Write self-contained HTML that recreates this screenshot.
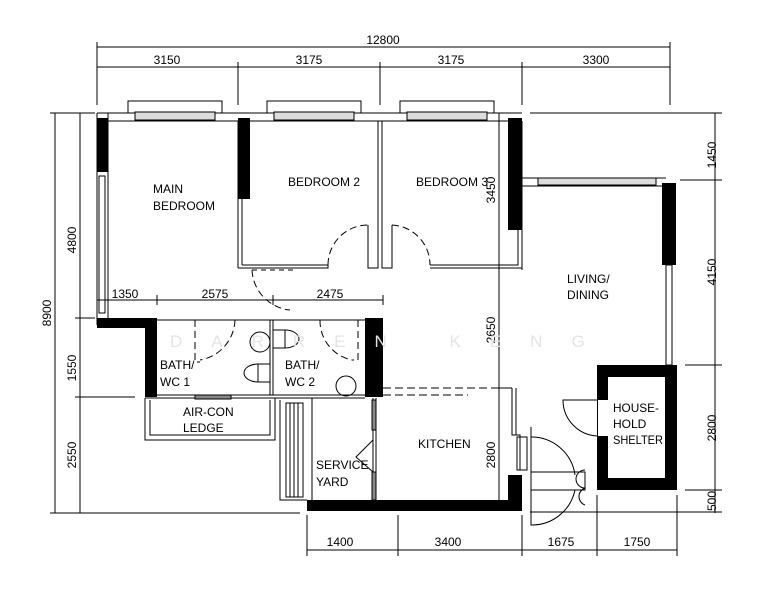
<!DOCTYPE html>
<html><head><meta charset="utf-8"><style>
html,body{margin:0;padding:0;background:#fff;}
svg{display:block;}
text{font-family:"Liberation Sans",sans-serif;font-size:12px;fill:#000;}
</style></head><body>
<svg width="775" height="600" viewBox="0 0 775 600" xmlns="http://www.w3.org/2000/svg">
<g stroke="#000" stroke-width="1" fill="none">
<line x1="97" y1="47" x2="670" y2="47"/>
<line x1="97" y1="67" x2="670" y2="67"/>
<line x1="97" y1="42" x2="97" y2="105"/>
<line x1="238" y1="62" x2="238" y2="105"/>
<line x1="380" y1="62" x2="380" y2="105"/>
<line x1="522" y1="62" x2="522" y2="105"/>
<line x1="670" y1="42" x2="670" y2="105"/>
<line x1="55" y1="113" x2="55" y2="513"/>
<line x1="80" y1="113" x2="80" y2="513"/>
<line x1="50" y1="113" x2="95" y2="113"/>
<line x1="75" y1="318" x2="95" y2="318"/>
<line x1="75" y1="397" x2="135" y2="397"/>
<line x1="50" y1="513" x2="300" y2="513"/>
<line x1="715" y1="113" x2="715" y2="513"/>
<line x1="530" y1="113" x2="722" y2="113"/>
<line x1="680" y1="180" x2="722" y2="180"/>
<line x1="685" y1="365" x2="722" y2="365"/>
<line x1="685" y1="490" x2="722" y2="490"/>
<line x1="530" y1="512" x2="722" y2="512"/>
<line x1="307" y1="550" x2="677" y2="550"/>
<line x1="307" y1="515" x2="307" y2="556"/>
<line x1="398" y1="515" x2="398" y2="556"/>
<line x1="522" y1="515" x2="522" y2="556"/>
<line x1="597" y1="495" x2="597" y2="556"/>
<line x1="677" y1="495" x2="677" y2="556"/>
<line x1="97" y1="300" x2="383" y2="300"/>
<line x1="157" y1="295" x2="157" y2="305"/>
<line x1="273" y1="295" x2="273" y2="305"/>
<line x1="383" y1="295" x2="383" y2="305"/>
<line x1="499" y1="113" x2="499" y2="505"/>
<line x1="97" y1="113" x2="522" y2="113"/>
<line x1="97" y1="121" x2="522" y2="121"/>
<rect x="128" y="101" width="94" height="12"/><rect x="267" y="101" width="94" height="12"/><rect x="400" y="101" width="94" height="12"/>
<rect x="135" y="112" width="80" height="8" fill="#ddd"/><rect x="274" y="112" width="80" height="8" fill="#ddd"/><rect x="407" y="112" width="80" height="8" fill="#ddd"/>
<line x1="97" y1="113" x2="97" y2="325"/><line x1="108" y1="113" x2="108" y2="318"/>
<rect x="99" y="176" width="6" height="137"/>
<line x1="238" y1="121" x2="238" y2="268"/><line x1="242" y1="199" x2="242" y2="265"/>
<polyline points="242,265 328,265 328,268 238,268"/>
<polyline points="368,225 368,268 378,268 378,121"/><polyline points="382,121 382,268 392,268 392,225"/>
<polyline points="430,265 518,265 518,121"/><line x1="430" y1="268" x2="522" y2="268"/><line x1="522" y1="121" x2="522" y2="270"/>
<path d="M328,265 A40,40 0 0 1 368,225" stroke-dasharray="7,4"/>
<path d="M392,225 A40,40 0 0 1 430,265" stroke-dasharray="7,4"/>
<line x1="368" y1="225" x2="368" y2="268" stroke-dasharray="7,4"/>
<line x1="392" y1="225" x2="392" y2="268" stroke-dasharray="7,4"/>
<path d="M252,270 A42,42 0 0 0 290,310" stroke-dasharray="7,4"/>
<line x1="252" y1="270" x2="295" y2="270" stroke-dasharray="5,4"/>
<line x1="522" y1="178" x2="666" y2="178"/><line x1="522" y1="186" x2="662" y2="186"/>
<rect x="538" y="178" width="118" height="7" fill="#ddd"/>
<rect x="666" y="265" width="6" height="100"/>
<line x1="157" y1="320" x2="365" y2="320"/><line x1="157" y1="395" x2="365" y2="395"/><line x1="145" y1="398" x2="365" y2="398"/>
<line x1="270" y1="320" x2="270" y2="395"/><line x1="273" y1="320" x2="273" y2="395"/>
<path d="M195,320 L195,362 L200,362 M235,320 A42,42 0 0 1 200,360" stroke-dasharray="7,4"/>
<path d="M358,320 L358,360 L352,360 M320,320 A40,40 0 0 0 352,360" stroke-dasharray="7,4"/>
<circle cx="260" cy="342" r="10"/><circle cx="346" cy="386" r="10"/>
<rect x="258" y="364" width="12" height="18"/><path d="M258,364 A14,9 0 0 0 258,382"/>
<rect x="273" y="330" width="12" height="18"/><path d="M285,330 A14,9 0 0 1 285,348"/>
<polyline points="145,398 145,440 275,440 275,398"/><polyline points="150,400 150,435 270,435 270,400"/>
<rect x="195" y="395" width="36" height="4" fill="#888"/>
<polyline points="280,400 280,500 307,500"/><rect x="286" y="403" width="17" height="94"/>
<line x1="290" y1="403" x2="290" y2="497"/><line x1="294" y1="403" x2="294" y2="497"/><line x1="298" y1="403" x2="298" y2="497"/>
<line x1="312" y1="398" x2="312" y2="500"/>
<line x1="373" y1="398" x2="373" y2="500"/><line x1="376" y1="398" x2="376" y2="500"/>
<rect x="372" y="400" width="4" height="30" fill="#888"/><rect x="372" y="472" width="4" height="28" fill="#888"/>
<polyline points="373,440 356,457 373,472"/>
<line x1="383" y1="388" x2="499" y2="388" stroke-dasharray="8,4"/><line x1="383" y1="395" x2="468" y2="395" stroke-dasharray="8,4"/>
<line x1="499" y1="388" x2="512" y2="388"/><polyline points="512,388 512,435 520,435 520,470"/><polyline points="516,388 516,435"/>
<rect x="517" y="437" width="10" height="33"/>
<path d="M531,427 L531,475"/>
<path d="M531,437 A44,44 0 0 1 575,475"/>
<rect x="531" y="472" width="54" height="18"/>
<path d="M531,490 L531,525 A44,44 0 0 0 575,490"/>
<path d="M585,470 A9,9 0 0 0 585,488 A9,9 0 0 0 585,505"/>
<path d="M597,400 L563,400 A36,36 0 0 0 597,436"/>
<line x1="597" y1="400" x2="608" y2="400"/>
</g>
<g fill="#000">
<rect x="97" y="118" width="11" height="54"/>
<rect x="238" y="118" width="12" height="81"/>
<rect x="508" y="118" width="14" height="112"/>
<rect x="662" y="183" width="14" height="82"/>
<polygon points="97,318 157,318 157,397 145,397 145,328 97,328"/>
<rect x="365" y="318" width="18" height="79"/>
<rect x="307" y="500" width="215" height="11"/>
<rect x="508" y="475" width="14" height="36"/>
<path d="M597,365 H677 V490 H597 Z M608,377 V478 H665 V377 Z" fill-rule="evenodd"/>
</g>
<rect x="598" y="400" width="10" height="36" fill="#fff"/>
<g>
<text x="383" y="44" text-anchor="middle">12800</text>
<text x="167" y="64" text-anchor="middle">3150</text>
<text x="309" y="64" text-anchor="middle">3175</text>
<text x="451" y="64" text-anchor="middle">3175</text>
<text x="596" y="64" text-anchor="middle">3300</text>
<text x="125" y="298" text-anchor="middle">1350</text>
<text x="215" y="298" text-anchor="middle">2575</text>
<text x="330" y="298" text-anchor="middle">2475</text>
<text x="340" y="546" text-anchor="middle">1400</text>
<text x="448" y="546" text-anchor="middle">3400</text>
<text x="561" y="546" text-anchor="middle">1675</text>
<text x="637" y="546" text-anchor="middle">1750</text>
<text transform="translate(51,313) rotate(-90)" text-anchor="middle">8900</text>
<text transform="translate(76,240) rotate(-90)" text-anchor="middle">4800</text>
<text transform="translate(76,368) rotate(-90)" text-anchor="middle">1550</text>
<text transform="translate(76,455) rotate(-90)" text-anchor="middle">2550</text>
<text transform="translate(495,190) rotate(-90)" text-anchor="middle">3450</text>
<text transform="translate(495,330) rotate(-90)" text-anchor="middle">2650</text>
<text transform="translate(495,455) rotate(-90)" text-anchor="middle">2800</text>
<text transform="translate(716,155) rotate(-90)" text-anchor="middle">1450</text>
<text transform="translate(716,272) rotate(-90)" text-anchor="middle">4150</text>
<text transform="translate(716,428) rotate(-90)" text-anchor="middle">2800</text>
<text transform="translate(716,501) rotate(-90)" text-anchor="middle">500</text>
<text x="153" y="193">MAIN</text><text x="153" y="210">BEDROOM</text>
<text x="288" y="186">BEDROOM 2</text>
<text x="416" y="186">BEDROOM 3</text>
<text x="567" y="283">LIVING/</text><text x="567" y="299">DINING</text>
<text x="160" y="369">BATH/</text><text x="160" y="386">WC 1</text>
<text x="285" y="369">BATH/</text><text x="285" y="386">WC 2</text>
<text x="183" y="416">AIR-CON</text><text x="183" y="432">LEDGE</text>
<text x="316" y="469">SERVICE</text><text x="316" y="486">YARD</text>
<text x="418" y="448">KITCHEN</text>
<text x="613" y="412" textLength="46" lengthAdjust="spacingAndGlyphs">HOUSE-</text><text x="613" y="428">HOLD</text><text x="613" y="444" textLength="50" lengthAdjust="spacingAndGlyphs">SHELTER</text>
<text x="170" y="347" style="fill:#e4e4e4;font-size:17px" letter-spacing="29">DARREN KENG</text>
</g>
</svg>
</body></html>
